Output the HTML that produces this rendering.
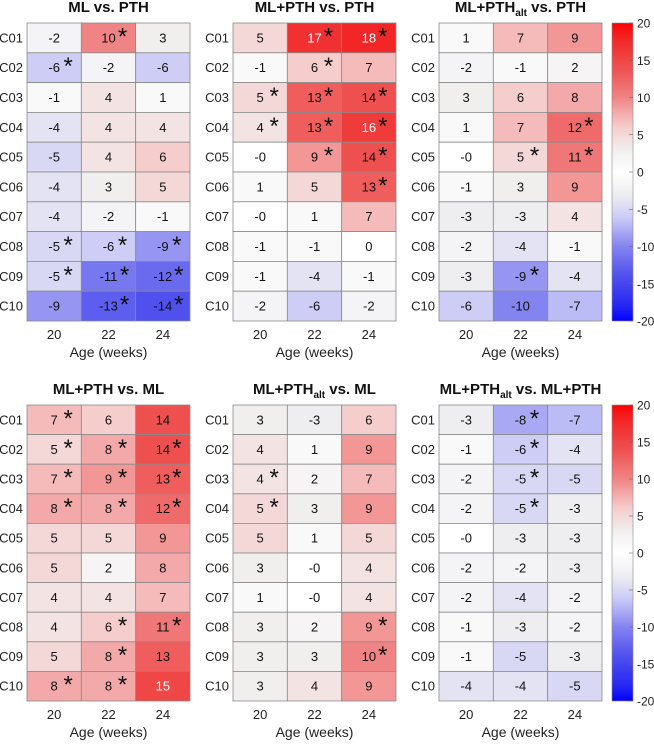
<!DOCTYPE html>
<html><head><meta charset="utf-8"><style>
body{margin:0;background:#fff;width:654px;height:741px;overflow:hidden}
svg{font-family:"Liberation Sans",Arial,sans-serif}
</style></head><body>
<svg id="chart" width="654" height="741" xmlns="http://www.w3.org/2000/svg">
<defs>
<linearGradient id="cbg" x1="0" y1="1" x2="0" y2="0"></linearGradient>
</defs>
</svg>
<script>
const rows = ["C01","C02","C03","C04","C05","C06","C07","C08","C09","C10"];
const cols = ["20","22","24"];
const titles = ["ML vs. PTH","ML+PTH vs. PTH","ML+PTH<alt> vs. PTH","ML+PTH vs. ML","ML+PTH<alt> vs. ML","ML+PTH<alt> vs. ML+PTH"];
const p1 = [[-2,10,3],[-6,-2,-6],[-1,4,1],[-4,4,4],[-5,4,6],[-4,3,5],[-4,-2,-1],[-5,-6,-9],[-5,-11,-12],[-9,-13,-14]];
const p1s = [[0,1,0],[1,0,0],[0,0,0],[0,0,0],[0,0,0],[0,0,0],[0,0,0],[1,1,1],[1,1,1],[0,1,1]];
const p2 = [[5,17,18],[-1,6,7],[5,13,14],[4,13,16],[-0,9,14],[1,5,13],[-0,1,7],[-1,-1,0],[-1,-4,-1],[-2,-6,-2]];
const p2s = [[0,1,1],[0,1,0],[1,1,1],[1,1,1],[0,1,1],[0,0,1],[0,0,0],[0,0,0],[0,0,0],[0,0,0]];
const p3 = [[1,7,9],[-2,-1,2],[3,6,8],[1,7,12],[-0,5,11],[-1,3,9],[-3,-3,4],[-2,-4,-1],[-3,-9,-4],[-6,-10,-7]];
const p3s = [[0,0,0],[0,0,0],[0,0,0],[0,0,1],[0,1,1],[0,0,0],[0,0,0],[0,0,0],[0,1,0],[0,0,0]];
const p4 = [[7,6,14],[5,8,14],[7,9,13],[8,8,12],[5,5,9],[5,2,8],[4,4,7],[4,6,11],[5,8,13],[8,8,15]];
const p4s = [[1,0,0],[1,1,1],[1,1,1],[1,1,1],[0,0,0],[0,0,0],[0,0,0],[0,1,1],[0,1,0],[1,1,0]];
const p5 = [[3,-3,6],[4,1,9],[4,2,7],[5,3,9],[5,1,5],[3,-0,4],[1,-0,4],[3,2,9],[3,3,10],[3,4,9]];
const p5s = [[0,0,0],[0,0,0],[1,0,0],[1,0,0],[0,0,0],[0,0,0],[0,0,0],[0,0,1],[0,0,1],[0,0,0]];
const p6 = [[-3,-8,-7],[-1,-6,-4],[-2,-5,-5],[-2,-5,-3],[-0,-3,-3],[-2,-2,-3],[-2,-4,-2],[-1,-3,-2],[-1,-5,-3],[-4,-4,-5]];
const p6s = [[0,1,0],[0,1,0],[0,1,0],[0,1,0],[0,0,0],[0,0,0],[0,0,0],[0,0,0],[0,0,0],[0,0,0]];
const cbTicks = [20,15,10,5,0,-5,-10,-15,-20];

const panels=[p1,p2,p3,p4,p5,p6], stars=[p1s,p2s,p3s,p4s,p5s,p6s];
const NS="http://www.w3.org/2000/svg", svg=document.getElementById("chart");
const PX=[27,233,439], PY=[23,405], PHS=[298,296], PW=163;
const stops=[[0,255,255,255],[0.15,241,238,238],[0.3,246,205,205],[0.5,240,132,132],[0.7,238,80,80],[0.9,242,38,38],[1,255,0,0]];
function color(v){
  const t=Math.min(1,Math.abs(v)/20);
  let a=stops[0],b=stops[1];
  for(let i=0;i<stops.length-1;i++){if(t>=stops[i][0]&&t<=stops[i+1][0]){a=stops[i];b=stops[i+1];break;}}
  const f=(t-a[0])/(b[0]-a[0]||1);
  const hi=Math.round(a[1]+(b[1]-a[1])*f), lo=Math.round(a[2]+(b[2]-a[2])*f);
  return v>=0?`rgb(${hi},${lo},${lo})`:`rgb(${lo},${lo},${hi})`;
}
function el(tag,attrs,parent){const e=document.createElementNS(NS,tag);for(const k in attrs)e.setAttribute(k,attrs[k]);(parent||svg).appendChild(e);return e;}
function txt(x,y,s,attrs,parent){const e=el("text",Object.assign({x:x,y:y},attrs),parent);e.textContent=s;return e;}
function title(x,y,s,parent){
  const t=el("text",{x:x,y:y,"text-anchor":"middle","font-size":15,"font-weight":"bold",fill:"#111"},parent);
  const parts=s.split("<alt>");
  const t1=document.createElementNS(NS,"tspan");t1.textContent=parts[0];t.appendChild(t1);
  if(parts.length>1){
    const t2=document.createElementNS(NS,"tspan");t2.setAttribute("font-size",10);t2.setAttribute("dy",4);t2.textContent="alt";t.appendChild(t2);
    const t3=document.createElementNS(NS,"tspan");t3.setAttribute("dy",-4);t3.textContent=parts[1];t.appendChild(t3);
  }
  return t;
}
const cw=PW/cols.length;
const xS=(p,c)=>PX[p%3]+c*cw;
const rhOf=p=>PHS[Math.floor(p/3)]/rows.length;
const yS=(p,r)=>PY[Math.floor(p/3)]+r*rhOf(p);
panels.forEach((data,p)=>{
  const g=el("g",{});
  
  
  const x0=PX[p%3], y0=PY[Math.floor(p/3)], PH=PHS[Math.floor(p/3)], rh=rhOf(p);
  const tt=title(x0+PW/2,y0-11,titles[p],g);
  
  
  data.forEach((row,r)=>row.forEach((v,c)=>{
    const rc=el("rect",{x:xS(p,c),y:yS(p,r),width:cw,height:rh,fill:color(v),stroke:"#8a8a8a","stroke-width":0.8},g);
    
    
    const lab=Object.is(v,-0)?"-0":String(v);
    const cx=xS(p,c)+cw/2, cy=yS(p,r)+rh/2+4.5;
    const t=txt(cx,cy,lab,{"text-anchor":"middle","font-size":13,fill:Math.abs(v)>=15?"#fff":"#111"},g);
    
    
    if(stars[p][r][c]){
      const s=txt(cx+(lab.length>2?16:14),cy+2,"*",{"text-anchor":"middle","font-size":24,fill:"#111"},g);
      
      
    }
  }));
  rows.forEach((rl,r)=>{
    const t=txt(x0-4,yS(p,r)+rh/2+4.5,rl,{"text-anchor":"end","font-size":13,fill:"#222"},g);
    
    
  });
  cols.forEach((cl,c)=>{
    const t=txt(xS(p,c)+cw/2,y0+PH+18,cl,{"text-anchor":"middle","font-size":13,fill:"#222"},g);
    
    
  });
  const xt=txt(x0+PW/2,y0+PH+36,"Age (weeks)",{"text-anchor":"middle","font-size":14,fill:"#222"},g);
  
  
});
const grad=document.getElementById("cbg");
for(let i=0;i<=40;i++){const v=-20+i;el("stop",{offset:(i/40),"stop-color":color(v)},grad);}
[0,1].forEach(k=>{
  const y0=PY[k], PH=PHS[k];
  const g=el("g",{});
  
  
  el("rect",{x:612,y:y0,width:21,height:PH,fill:"url(#cbg)",stroke:"#8a8a8a","stroke-width":0.6},g);
  cbTicks.forEach(v=>{
    const y=y0+(20-v)/40*PH;
    el("line",{x1:629,x2:633,y1:y,y2:y,stroke:"#666","stroke-width":0.6},g);
    const t=txt(637,y+4.5,String(v),{"font-size":12,fill:"#222"},g);
    
    
  });
});
</script>
</body></html>
